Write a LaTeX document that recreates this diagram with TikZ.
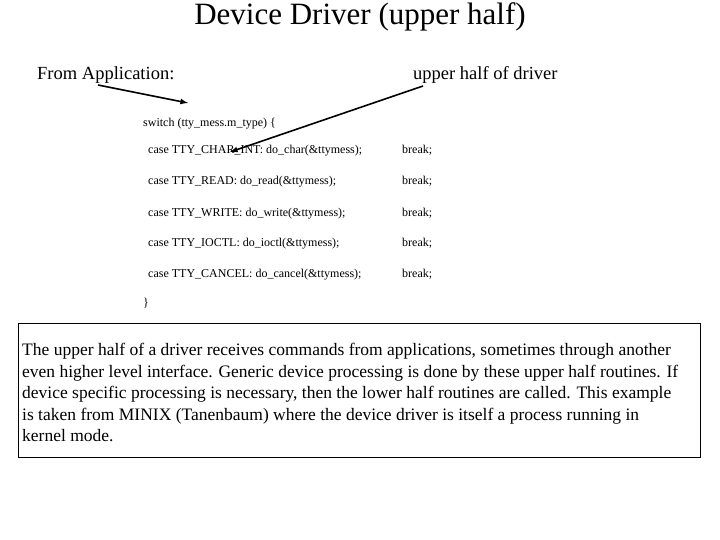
\documentclass[tikz,border=0pt]{standalone}
\usepackage{fontspec}
\setmainfont{Liberation Serif}
\begin{document}
\begin{tikzpicture}[x=1pt,y=-1pt,
  code/.style={anchor=base west,inner sep=0pt,font=\fontsize{12}{14}\selectfont},
  lab/.style={anchor=west,inner sep=0pt,font=\fontsize{18.5}{21}\selectfont},
  arr/.style={-latex,line width=1.6pt}]
\useasboundingbox (0,0) rectangle (720,540);
\node[inner sep=0pt,font=\fontsize{31}{34}\selectfont] (title) at (360,17) {Device Driver (upper half)};
\node[lab] (app) at (37,75) {From Application:};
\node[lab] (drv) at (413,75) {upper half of driver};
\node[code] (sw) at (143,127) {switch (tty\_mess.m\_type) \{};
\node[code] (c1) at (148,154) {case TTY\_CHAR\_INT: do\_char(\&ttymess);};
\node[code] (c2) at (148,185) {case TTY\_READ: do\_read(\&ttymess);};
\node[code] (c3) at (148,216) {case TTY\_WRITE: do\_write(\&ttymess);};
\node[code] (c4) at (148,247) {case TTY\_IOCTL: do\_ioctl(\&ttymess);};
\node[code] (c5) at (148,277) {case TTY\_CANCEL: do\_cancel(\&ttymess);};
\foreach \y/\n in {154/1,185/2,216/3,247/4,277/5}
  \node[code] (b\n) at (402,\y) {break;};
\node[code] (cl) at (143,306) {\}};
\coordinate (a1s) at (98,85);
\coordinate (a1e) at (188,103);
\coordinate (a2s) at (423,86);
\coordinate (a2e) at (230,152);
\draw[arr] (a1s) -- (a1e);
\draw[arr] (a2s) -- (a2e);
\node[draw,line width=1.2pt,anchor=north west,minimum width=682pt,minimum height=134pt,inner sep=0pt] (box) at (18,323) {};
\node[anchor=north west,inner sep=0pt,align=left,font=\fontsize{17.5}{21.5}\selectfont] (txt) at (22,343) {The upper half of a driver receives commands from applications, sometimes through another\\ even higher level interface. Generic device processing is done by these upper half routines. If\\ device specific processing is necessary, then the lower half routines are called. This example\\ is taken from MINIX (Tanenbaum) where the device driver is itself a process running in\\ kernel mode.};
\end{tikzpicture}
\end{document}
